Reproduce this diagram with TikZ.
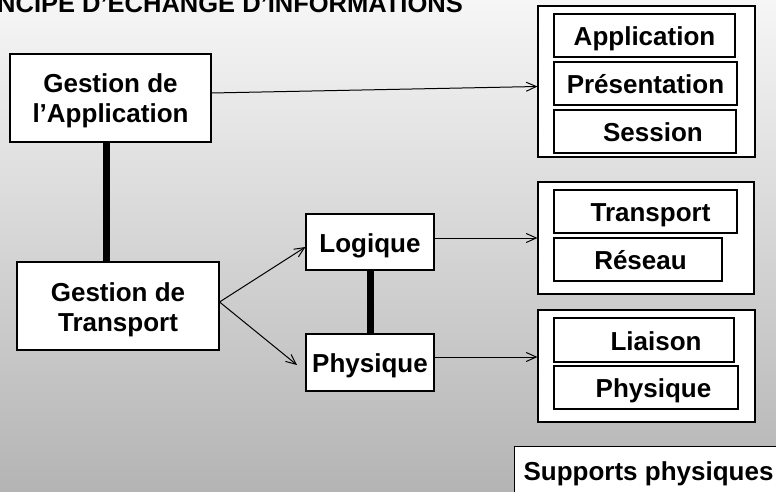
\documentclass[tikz,border=0pt]{standalone}
\usepackage{fontspec}
\setmainfont{Liberation Sans}
\usetikzlibrary{arrows.meta}
\definecolor{bgtop}{RGB}{246,246,246}
\definecolor{bgbot}{RGB}{180,180,180}
\begin{document}
\begin{tikzpicture}[x=1pt,y=-1pt,
  labelfont/.style={font=\fontsize{26}{30}\selectfont\bfseries},
  layerbox/.style={draw=black, line width=1.1pt, fill=white, inner sep=0pt,
    labelfont, text height=20pt, text depth=0pt, align=center},
  groupbox/.style={draw=black, line width=1.1pt, fill=white, inner sep=0pt},
  flowarrow/.style={line width=1pt, -{Straight Barb[length=10pt,width=9pt]}},
  thickbar/.style={line width=7pt}]

% page and shaded background
\useasboundingbox (0,0) rectangle (776,492);
\fill[top color=bgtop, bottom color=bgbot] (0,0) rectangle (776,492);

% title
\node[anchor=base west, inner sep=0pt, font=\fontsize{25.5}{30}\selectfont\bfseries]
  (title) at (-3,13) {NCIPE D’ECHANGE D’INFORMATIONS};

% management boxes (two-line labels: box height spans both lines)
\node[layerbox, minimum width=201pt, minimum height=88pt, text height=50pt]
  (app) at (110.5,98) {Gestion de\\l’Application};
\node[layerbox, minimum width=202pt, minimum height=88pt, text height=50pt]
  (trans) at (118,306) {Gestion de\\Transport};
\node[layerbox, minimum width=128pt, minimum height=56pt] (log) at (370,242) {Logique};
\node[layerbox, minimum width=128pt, minimum height=57pt] (phy) at (370,362.5) {Physique};

% layer groups
\node[groupbox, minimum width=217pt, minimum height=151pt] (g1) at (646.5,81.5) {};
\node[groupbox, minimum width=216pt, minimum height=112pt] (g2) at (646,238) {};
\node[groupbox, minimum width=217pt, minimum height=112pt] (g3) at (646.5,366) {};

\node[layerbox, minimum width=181pt, minimum height=43pt] (l7) at (644.5,35.5) {Application};
\node[layerbox, minimum width=183pt, minimum height=43pt] (l6) at (645.5,83.5) {Présentation};
\node[layerbox, minimum width=182pt, minimum height=43pt] (l5) at (645,131.5) {\hspace*{16pt}Session};
\node[layerbox, minimum width=183pt, minimum height=43pt] (l4) at (645.5,211.5) {\hspace*{10pt}Transport};
\node[layerbox, minimum width=168pt, minimum height=43pt] (l3) at (638,259.5) {\hspace*{5pt}Réseau};
\node[layerbox, minimum width=180pt, minimum height=44pt] (l2) at (644,340) {\hspace*{24pt}Liaison};
\node[layerbox, minimum width=184pt, minimum height=43pt] (l1) at (646,387.5) {\hspace*{15pt}Physique};

% physical media
\node[groupbox, labelfont, anchor=north west, inner xsep=9pt, inner ysep=14pt,
  text height=20pt, text depth=0pt] (sup) at (514,446) {Supports physiques};

% links
\draw[thickbar] ([xshift=-4.5pt]app.south) -- ([xshift=-12pt]trans.north);
\draw[thickbar] (log.south) -- (phy.north);

\coordinate (phyin) at (297,365);
\draw[flowarrow] ([yshift=5pt]app.east) -- ([yshift=-5pt]g1.west);
\draw[flowarrow] ([yshift=4pt]trans.east) -- ([yshift=-5pt]log.west);
\draw[flowarrow] ([yshift=4pt]trans.east) -- (phyin);
\draw[flowarrow] ([yshift=4pt]log.east) -- (g2.west);
\draw[flowarrow] ([yshift=5.5pt]phy.east) -- ([yshift=9pt]g3.west);
\end{tikzpicture}
\end{document}
